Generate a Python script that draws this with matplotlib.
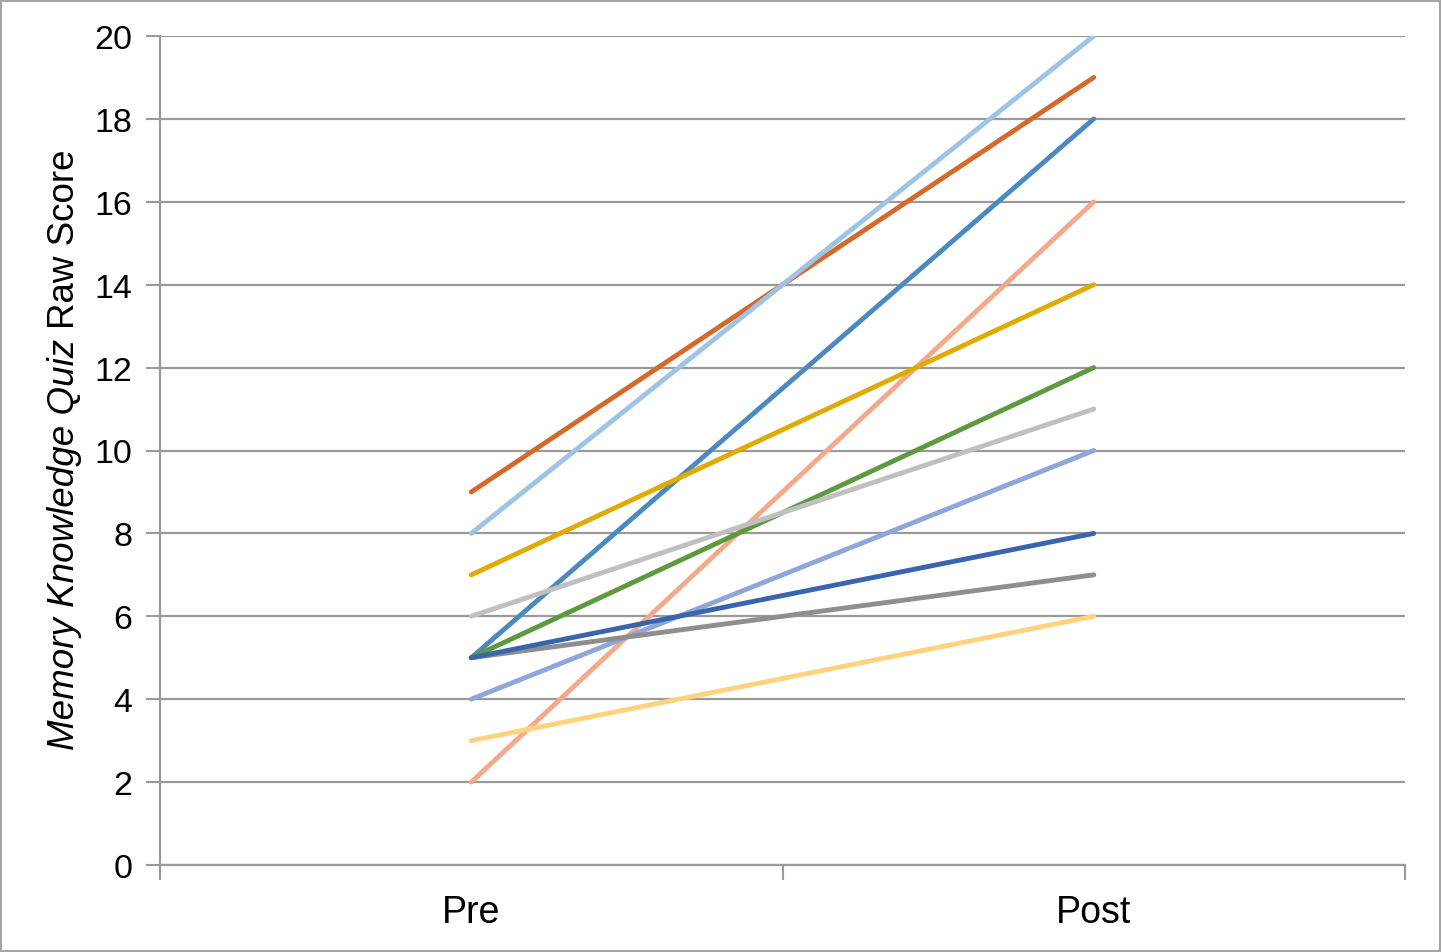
import matplotlib.pyplot as plt
from matplotlib.patches import Rectangle

plt.rcParams['font.family'] = ['Liberation Sans', 'DejaVu Sans']

categories = ['Pre', 'Post']
pre_scores = [9, 8, 5, 2, 7, 5, 6, 4, 5, 5, 3]
post_scores = [19, 20, 18, 16, 14, 12, 11, 10, 7, 8, 6]
colors = ['#D5692A', '#9DC3E6', '#4A8AC1', '#F4A98A', '#E1AA00',
          '#5D9A3E', '#C0C0C0', '#8FA6DA', '#8E8E8E', '#3A64AE', '#FFD280']
y_ticks = list(range(0, 21, 2))

GRID = '#9A9A9A'

fig = plt.figure(figsize=(14.42, 9.53), dpi=100, facecolor='white')
ax = fig.add_axes([160 / 1442, 1 - 866 / 953, (1405 - 160) / 1442, (866 - 37) / 953])

x = range(len(categories))
for pre, post, c in zip(pre_scores, post_scores, colors):
    ax.plot(x, [pre, post], color=c, linewidth=3.5, solid_capstyle='round', zorder=3)

ax.set_xlim(-0.5, 1.5)
ax.set_ylim(0, 20)
ax.set_yticks(y_ticks)
ax.set_xticks(list(x))
ax.set_xticklabels(categories)
ax.set_xticks([-0.5, 0.5, 1.5], minor=True)
ax.tick_params(axis='x', which='major', length=0, labelsize=27, pad=21)
ax.tick_params(axis='x', which='minor', length=11, width=1.5, color=GRID)
ax.tick_params(axis='y', length=10, width=1.5, color=GRID, labelsize=24.5, pad=10)

ax.grid(True, axis='y', color=GRID, linewidth=1.6, zorder=0)
ax.set_axisbelow(True)
for s in ['top', 'right']:
    ax.spines[s].set_visible(False)
for s in ['left', 'bottom']:
    ax.spines[s].set_color(GRID)
    ax.spines[s].set_linewidth(1.6)

# y label: italic part + regular part
lbl_i = fig.text(65 / 1442, 1 - 750 / 953, 'Memory Knowledge Quiz ', fontsize=26.5,
                 fontstyle='italic', rotation=90, ha='center', va='bottom')
fig.canvas.draw()
bb = lbl_i.get_window_extent()
fig.text(65 / 1442, bb.y1 / fig.bbox.height, 'Raw Score', fontsize=26.5,
         rotation=90, ha='center', va='bottom')

fig.patches.append(Rectangle((1 / 1442, 1 / 953), 1 - 3 / 1442, 1 - 3 / 953,
                             transform=fig.transFigure, fill=False,
                             edgecolor='#A6A6A6', linewidth=1.5))

fig.savefig('out.png', dpi=100, facecolor='white')
